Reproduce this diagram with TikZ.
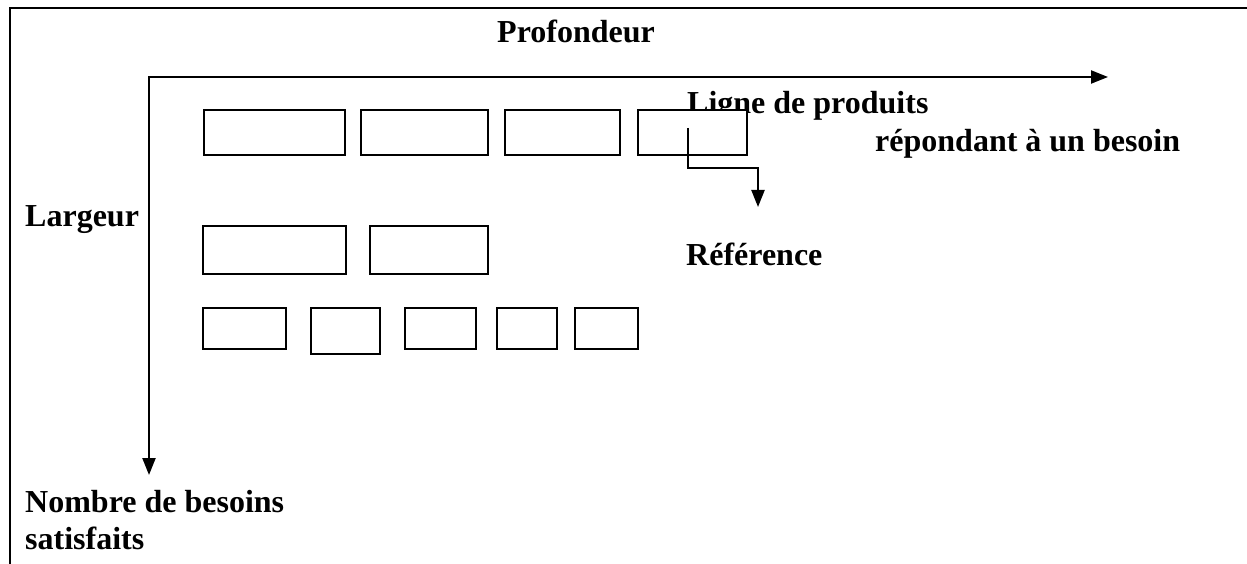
\documentclass[tikz,border=0pt]{standalone}
\usepackage{fontspec}
\setmainfont{Liberation Serif}
\usetikzlibrary{arrows.meta}

\tikzstyle{cadre}   = [line width=2.5pt]
\tikzstyle{axe}     = [line width=2.2pt, {Triangle[length=17pt,width=13pt]}-{Triangle[length=17pt,width=13pt]}]
\tikzstyle{fleche}  = [line width=2.2pt, -{Triangle[length=17pt,width=13pt]}]
\tikzstyle{produit} = [draw, fill=white, line width=2pt, inner sep=0pt, anchor=north west]
\tikzstyle{titre}   = [anchor=base west, inner sep=0pt, font=\fontsize{32}{37}\selectfont\bfseries]
\def\produit#1#2#3#4#5{
  \node[produit, minimum width=#4pt, minimum height=#5pt] (#1) at (#2,#3) {};
}

\begin{document}
\begin{tikzpicture}[x=1pt,y=-1pt]
      \useasboundingbox (0,0) rectangle (1247,564);
      \draw[cadre] (10,564) -- (10,8) -- (1247,8);
      % textes
      \node[titre] (profondeur) at (497,43) {Profondeur};
      \node[titre] (ligne) at (687,114) {Ligne de produits};
      \node[titre] (besoin) at (875,152) {répondant à un besoin};
      \node[titre] (largeur) at (25,226) {Largeur};
      \node[titre] (reference) at (686,265) {Référence};
      \node[titre] (nombre) at (25,512) {Nombre de besoins};
      \node[titre] (satisfaits) at (25,549) {satisfaits};
      % axes
      \coordinate (origine) at (149,77);
      \coordinate (xfin) at (1108,77);
      \coordinate (yfin) at (149,475);
      \draw[axe] (yfin) |- (xfin);
      % lignes de produits
      \produit{ra}{203}{109}{141}{45}
      \produit{rb}{360}{109}{127}{45}
      \produit{rc}{504}{109}{115}{45}
      \produit{rd}{637}{109}{109}{45}
      \produit{sa}{202}{225}{143}{48}
      \produit{sb}{369}{225}{118}{48}
      \produit{ta}{202}{307}{83}{41}
      \produit{tb}{310}{307}{69}{46}
      \produit{tc}{404}{307}{71}{41}
      \produit{td}{496}{307}{60}{41}
      \produit{te}{574}{307}{63}{41}
      % reference
      \coordinate (depart) at (688,128);
      \coordinate (cible) at (758,207);
      \draw[fleche] (depart) -- ++(0,40) -| (cible);
    \end{tikzpicture}
\end{document}
